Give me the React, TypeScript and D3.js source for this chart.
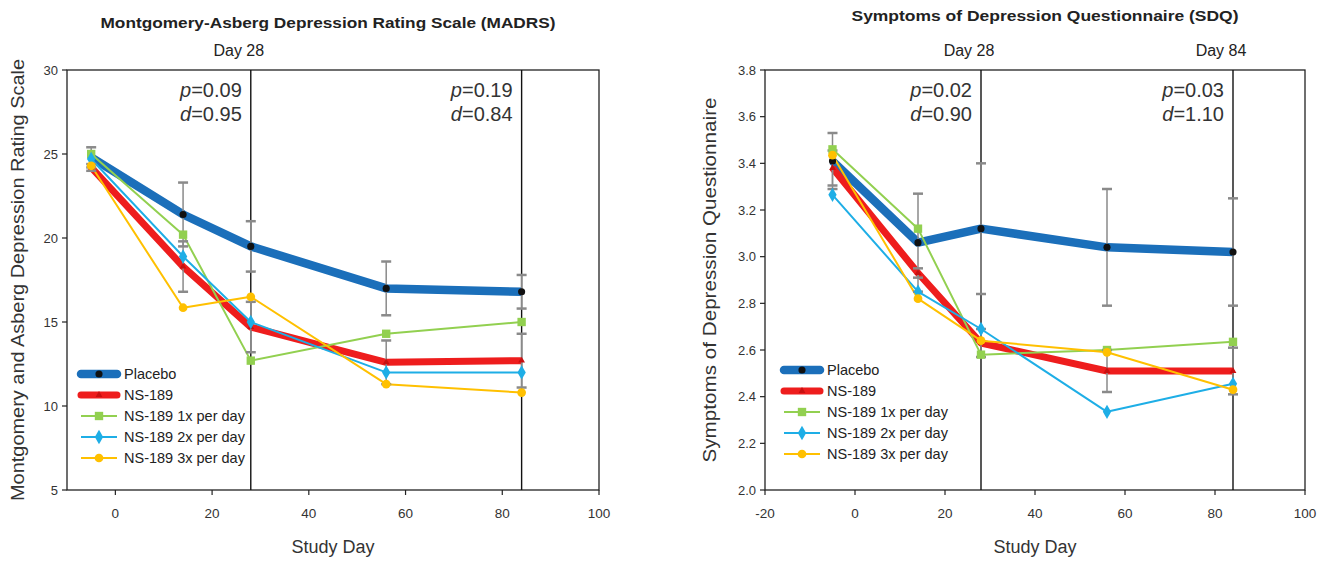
import * as d3 from 'd3';

// shared x values (study day)
const DAYS = [-5, 14, 28, 56, 84];

// MADRS panel
const MADRS_PLACEBO = [24.8, 21.4, 19.5, 17.0, 16.8];
const MADRS_PLACEBO_ERR = [0.6, 1.9, 1.5, 1.6, 1.0];
const MADRS_NS189 = [24.2, 18.3, 14.7, 12.6, 12.7];
const MADRS_NS189_ERR = [0.2, 1.5, 1.5, 1.3, 1.6];
const MADRS_1X = [25.0, 20.2, 12.7, 14.3, 15.0];
const MADRS_2X = [24.7, 18.9, 15.0, 12.0, 12.0];
const MADRS_3X = [24.3, 15.85, 16.5, 11.3, 10.8];
const MADRS_Y_TICKS = [5, 10, 15, 20, 25, 30];
const MADRS_X_TICKS = [0, 20, 40, 60, 80, 100];

// SDQ panel
const SDQ_PLACEBO = [3.41, 3.06, 3.12, 3.04, 3.02];
const SDQ_PLACEBO_ERR = [0.12, 0.21, 0.28, 0.25, 0.23];
const SDQ_NS189 = [3.38, 2.93, 2.63, 2.51, 2.51];
const SDQ_NS189_ERR = [0.075, 0.02, 0.06, 0.09, 0.1];
const SDQ_1X = [3.46, 3.12, 2.58, 2.6, 2.635];
const SDQ_2X = [3.265, 2.85, 2.69, 2.335, 2.455];
const SDQ_3X = [3.435, 2.82, 2.64, 2.59, 2.43];
const SDQ_Y_TICKS = [2.0, 2.2, 2.4, 2.6, 2.8, 3.0, 3.2, 3.4, 3.6, 3.8];
const SDQ_X_TICKS = [-20, 0, 20, 40, 60, 80, 100];

const SERIES_NAMES = ['Placebo', 'NS-189', 'NS-189 1x per day', 'NS-189 2x per day', 'NS-189 3x per day'];

const STYLES = [
  { color: '#1b6fba', width: 8.5, marker: d3.symbolCircle, mSize: 40, mFill: '#111' },
  { color: '#ee1d1d', width: 7, marker: d3.symbolTriangle, mSize: 20, mFill: '#c81010' },
  { color: '#92d050', width: 2, marker: d3.symbolSquare, mSize: 70, mFill: '#92d050' },
  { color: '#1eaee6', width: 2, marker: d3.symbolDiamond, mSize: 60, mFill: '#1eaee6' },
  { color: '#ffc000', width: 2, marker: d3.symbolCircle, mSize: 60, mFill: '#ffc000' },
];

const FONT = '"Liberation Sans", Arial, sans-serif';

interface Note { day: number; label?: string; p: string; d: string }

interface PanelProps {
  left: number;
  right: number;
  xDomain: [number, number];
  xTicks: number[];
  yDomain: [number, number];
  yTicks: number[];
  yFmt: (v: number) => string;
  values: number[][];
  errs: (number[] | null)[];
  title: string;
  titleX: number;
  titleY: number;
  titleLen: number;
  yLabel: string;
  yLabelX: number;
  yLabelLen: number;
  notes: Note[];
  legendX: number;
  legendY: number;
}

const TOP = 70;
const BOTTOM = 490;

const Panel = (p: PanelProps) => {
  const x = d3.scaleLinear().domain(p.xDomain).range([p.left, p.right]);
  const y = d3.scaleLinear().domain(p.yDomain).range([BOTTOM, TOP]);
  const line = d3
    .line<number>()
    .x((_, i) => x(DAYS[i]))
    .y(v => y(v));

  return (
    <g fontFamily={FONT}>
      <text
        x={p.titleX}
        y={p.titleY}
        textAnchor="middle"
        fontSize={15}
        fontWeight="bold"
        fill="#222"
        textLength={p.titleLen}
        lengthAdjust="spacingAndGlyphs"
      >
        {p.title}
      </text>

      {/* frame */}
      <rect x={p.left} y={TOP} width={p.right - p.left} height={BOTTOM - TOP} fill="none" stroke="#222" strokeWidth={1.3} />

      {/* y ticks */}
      {p.yTicks.map(t => (
        <g key={'y' + t}>
          <line x1={p.left - 5} x2={p.left} y1={y(t)} y2={y(t)} stroke="#222" strokeWidth={1.2} />
          <text x={p.left - 9} y={y(t)} dy="0.35em" textAnchor="end" fontSize={13} fill="#333">
            {p.yFmt(t)}
          </text>
        </g>
      ))}

      {/* x ticks */}
      {p.xTicks.map(t => (
        <g key={'x' + t}>
          <line x1={x(t)} x2={x(t)} y1={BOTTOM} y2={BOTTOM + 5} stroke="#222" strokeWidth={1.2} />
          <text x={x(t)} y={BOTTOM + 28} textAnchor="middle" fontSize={13.5} fill="#333">
            {t}
          </text>
        </g>
      ))}

      <text x={(p.left + p.right) / 2} y={553} textAnchor="middle" fontSize={18} fill="#333">
        Study Day
      </text>
      <text
        transform={`translate(${p.yLabelX},${(TOP + BOTTOM) / 2}) rotate(-90)`}
        textAnchor="middle"
        dy="0.35em"
        fontSize={19}
        fill="#333"
        textLength={p.yLabelLen}
        lengthAdjust="spacingAndGlyphs"
      >
        {p.yLabel}
      </text>

      {/* day markers and stats */}
      {p.notes.map(n => (
        <g key={'n' + n.day}>
          <line x1={x(n.day)} x2={x(n.day)} y1={TOP} y2={BOTTOM} stroke="#111" strokeWidth={1.4} />
          {n.label && (
            <text x={x(n.day) - 12} y={56} textAnchor="middle" fontSize={16} fill="#222">
              {n.label}
            </text>
          )}
          <text x={x(n.day) - 9} y={97} textAnchor="end" fontSize={20} fill="#333">
            <tspan fontStyle="italic">p</tspan>={n.p}
          </text>
          <text x={x(n.day) - 9} y={121} textAnchor="end" fontSize={20} fill="#333">
            <tspan fontStyle="italic">d</tspan>={n.d}
          </text>
        </g>
      ))}

      {/* series lines */}
      {p.values.map((vals, si) => (
        <path
          key={'l' + si}
          d={line(vals) ?? ''}
          fill="none"
          stroke={STYLES[si].color}
          strokeWidth={STYLES[si].width}
          strokeLinejoin="round"
        />
      ))}

      {/* error bars */}
      {p.errs.map((err, si) =>
        err
          ? err.map((e, i) => {
              const cx = x(DAYS[i]);
              const v = p.values[si][i];
              return (
                <g key={`e${si}-${i}`} stroke="#8a8a8a" strokeWidth={1.5}>
                  <line x1={cx} x2={cx} y1={y(v - e)} y2={y(v + e)} />
                  <line x1={cx - 5} x2={cx + 5} y1={y(v - e)} y2={y(v - e)} strokeWidth={2.5} />
                  <line x1={cx - 5} x2={cx + 5} y1={y(v + e)} y2={y(v + e)} strokeWidth={2.5} />
                </g>
              );
            })
          : null
      )}

      {/* markers */}
      {p.values.map((vals, si) =>
        vals.map((v, i) => (
          <path
            key={`m${si}-${i}`}
            transform={`translate(${x(DAYS[i])},${y(v)})`}
            d={d3.symbol().type(STYLES[si].marker).size(STYLES[si].mSize)() ?? ''}
            fill={STYLES[si].mFill}
          />
        ))
      )}

      {/* legend */}
      {SERIES_NAMES.map((name, si) => {
        const ly = p.legendY + si * 21;
        const lx = p.legendX;
        return (
          <g key={'lg' + si}>
            <line
              x1={lx}
              x2={lx + 36}
              y1={ly}
              y2={ly}
              stroke={STYLES[si].color}
              strokeWidth={STYLES[si].width}
              strokeLinecap={si < 2 ? 'round' : 'butt'}
            />
            <path
              transform={`translate(${lx + 18},${ly})`}
              d={d3.symbol().type(STYLES[si].marker).size(STYLES[si].mSize)() ?? ''}
              fill={STYLES[si].mFill}
            />
            <text x={lx + 43} y={ly} dy="0.35em" fontSize={14.5} fill="#222">
              {name}
            </text>
          </g>
        );
      })}
    </g>
  );
};

export default function App() {
  return (
    <svg
      width={1331}
      height={563}
      style={{ position: 'absolute', left: 0, top: 0, background: '#fff' }}
    >
      <Panel
        left={67}
        right={599}
        xDomain={[-10, 100]}
        xTicks={MADRS_X_TICKS}
        yDomain={[5, 30]}
        yTicks={MADRS_Y_TICKS}
        yFmt={v => String(v)}
        values={[MADRS_PLACEBO, MADRS_NS189, MADRS_1X, MADRS_2X, MADRS_3X]}
        errs={[MADRS_PLACEBO_ERR, MADRS_NS189_ERR, null, null, null]}
        title="Montgomery-Asberg Depression Rating Scale (MADRS)"
        titleX={328}
        titleY={28}
        titleLen={455}
        yLabel="Montgomery and Asberg Depression Rating Scale"
        yLabelX={17}
        yLabelLen={442}
        notes={[
          { day: 28, label: 'Day 28', p: '0.09', d: '0.95' },
          { day: 84, p: '0.19', d: '0.84' },
        ]}
        legendX={81}
        legendY={374}
      />
      <Panel
        left={765}
        right={1305}
        xDomain={[-20, 100]}
        xTicks={SDQ_X_TICKS}
        yDomain={[2, 3.8]}
        yTicks={SDQ_Y_TICKS}
        yFmt={v => v.toFixed(1)}
        values={[SDQ_PLACEBO, SDQ_NS189, SDQ_1X, SDQ_2X, SDQ_3X]}
        errs={[SDQ_PLACEBO_ERR, SDQ_NS189_ERR, null, null, null]}
        title="Symptoms of Depression Questionnaire (SDQ)"
        titleX={1045}
        titleY={21}
        titleLen={387}
        yLabel="Symptoms of Depression Questionnaire"
        yLabelX={709}
        yLabelLen={365}
        notes={[
          { day: 28, label: 'Day 28', p: '0.02', d: '0.90' },
          { day: 84, label: 'Day 84', p: '0.03', d: '1.10' },
        ]}
        legendX={784}
        legendY={370}
      />
    </svg>
  );
}
